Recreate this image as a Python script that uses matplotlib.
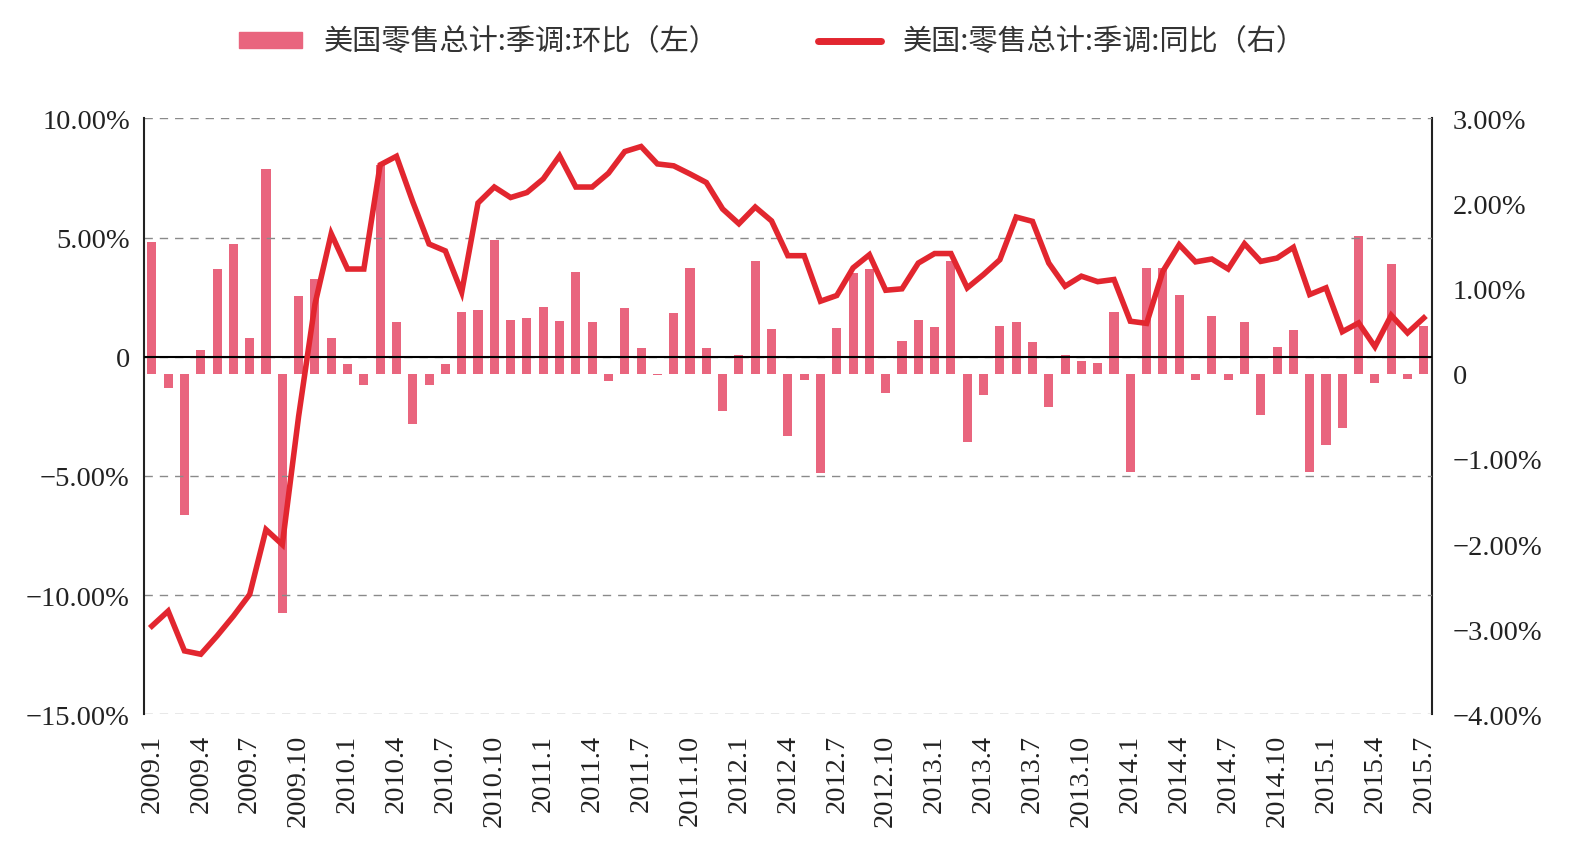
import numpy as np
import matplotlib
matplotlib.use("Agg")
import matplotlib.pyplot as plt
from matplotlib.patches import Patch
from matplotlib.lines import Line2D

# 月份 2009.1 - 2015.7
months = [f"{y}.{m}" for y in range(2009, 2016) for m in range(1, 13)][:79]

# 柱: 环比 (画在右轴)
mom = [1.55, -0.17, -1.66, 0.28, 1.23, 1.53, 0.42, 2.41, -2.81, 0.91,
       1.11, 0.42, 0.11, -0.13, 2.45, 0.61, -0.59, -0.13, 0.12, 0.73,
       0.75, 1.57, 0.63, 0.65, 0.78, 0.62, 1.19, 0.61, -0.08, 0.77,
       0.30, -0.02, 0.71, 1.24, 0.30, -0.44, 0.22, 1.32, 0.53,
       -0.73, -0.07, -1.17, 0.54, 1.18, 1.23, -0.23, 0.38, 0.63, 0.55,
       1.32, -0.80, -0.25, 0.56, 0.61, 0.37, -0.39, 0.22, 0.15, 0.13,
       0.73, -1.15, 1.24, 1.24, 0.92, -0.07, 0.68, -0.07, 0.61, -0.48,
       0.31, 0.52, -1.15, -0.84, -0.64, 1.62, -0.11, 1.29, -0.06, 0.56]

# 线: 同比 (画在左轴)
yoy = [-11.30, -10.67, -12.34, -12.48, -11.71, -10.88, -9.97, -7.25, -7.88, -2.5,
       2.2, 5.16, 3.68, 3.68, 8.05, 8.41, 6.5, 4.73, 4.44, 2.71,
       6.45, 7.12, 6.68, 6.89, 7.46, 8.43, 7.12, 7.12, 7.70, 8.61,
       8.82, 8.09, 8.01, 7.67, 7.31, 6.20, 5.58, 6.28, 5.70,
       4.24, 4.24, 2.33, 2.57, 3.73, 4.28, 2.79, 2.85, 3.93, 4.33,
       4.33, 2.89, 3.45, 4.07, 5.86, 5.68, 3.93, 2.96, 3.38, 3.15,
       3.24, 1.49, 1.40, 3.59, 4.70, 3.98, 4.10, 3.68, 4.74, 4.00,
       4.14, 4.59, 2.61, 2.89, 1.05, 1.42, 0.42, 1.74, 1.00, 1.63]

left_ticks = [10, 5, 0, -5, -10, -15]
right_ticks = [3, 2, 1, 0, -1, -2, -3, -4]

bar_color = "#E9657E"
line_color = "#E2262F"
serif = "Liberation Serif"
cjk = ["Noto Sans CJK SC", "DejaVu Sans"]


def pct(v):
    return "0" if v == 0 else f"{v:.2f}%".replace("-", "\u2212")


x = np.arange(len(months))

fig = plt.figure(figsize=(15.86, 8.62), dpi=100)
ax = fig.add_axes([0.0906, 0.1702, 0.9029 - 0.0906, 0.8615 - 0.1702])
ax2 = ax.twinx()

ax2.bar(x, mom, width=0.56, color=bar_color, zorder=2)
ax2.set_ylim(-4, 3)
ax2.set_yticks(right_ticks)
ax2.set_yticklabels([pct(v) for v in right_ticks], fontfamily=serif, fontsize=20.5)

# 线在柱上面
ax.set_zorder(ax2.get_zorder() + 1)
ax.patch.set_visible(False)
ax.plot(x, yoy, color=line_color, lw=4.0, solid_joinstyle="miter", zorder=4)
ax.axhline(0, color="black", lw=1.5, zorder=3)
ax.set_ylim(-15, 10)
ax.set_yticks(left_ticks)
ax.set_yticklabels([pct(v) for v in left_ticks], fontfamily=serif, fontsize=20.5)
ax.grid(axis="y", linestyle=(0, (6, 5)), color="#8a8a8a", lw=1.0)
ax.set_xlim(-0.5, len(months) - 0.5)
ax.set_xticks(x[::3])
ax.set_xticklabels(months[::3], rotation=90, fontfamily=serif, fontsize=20.5,
                   va="top", ha="center")

for a in (ax, ax2):
    for s in ("top", "bottom"):
        a.spines[s].set_visible(False)
ax.spines["right"].set_visible(False)
ax2.spines["left"].set_visible(False)
ax.spines["left"].set_color("#222222")
ax.spines["left"].set_linewidth(1.5)
ax2.spines["right"].set_color("#222222")
ax2.spines["right"].set_linewidth(1.5)

ax.tick_params(axis="y", length=0, pad=10, colors="#222222")
ax.tick_params(axis="x", length=0, pad=14, colors="#222222")
ax2.tick_params(axis="y", length=0, pad=15, colors="#222222")

handles = [Patch(color=bar_color), Line2D([], [], color=line_color, lw=5,
                                          solid_capstyle="round")]
labels = ["美国零售总计:季调:环比（左）", "美国:零售总计:季调:同比（右）"]
fig.legend(handles, labels, loc="center", bbox_to_anchor=(0.487, 0.950), ncol=2,
           frameon=False, prop={"family": cjk, "size": 21}, labelcolor="#333333",
           handlelength=2.15, handleheight=0.48, handletextpad=0.75, columnspacing=3.4)

fig.savefig("out.png", dpi=100)
